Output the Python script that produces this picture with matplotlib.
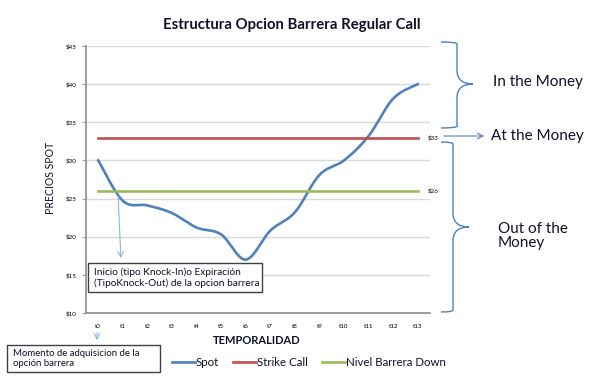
import numpy as np
import matplotlib
matplotlib.use("Agg")
import matplotlib.pyplot as plt
from matplotlib.path import Path
from matplotlib.patches import PathPatch, Rectangle

plt.rcParams["font.family"] = ["Lato", "DejaVu Sans"]

periods = ["t0", "t1", "t2", "t3", "t4", "t5", "t6", "t7", "t8", "t9", "t10", "t11", "t12", "t13"]
spot = [30, 24.7, 24.1, 23.1, 21.2, 20.3, 17.0, 20.8, 23.2, 28.1, 30.0, 33.2, 38.1, 40.0]
strike = [33] * len(periods)
barrier = [26] * len(periods)
y_ticks = [10, 15, 20, 25, 30, 35, 40, 45]

W, H = 597, 387
BLUE, RED, GREEN = "#4F81BD", "#C0504D", "#9BBB59"
TXT = "#10102a"


def smooth(x, y, n=20):
    # excel style smoothed line (catmull-rom bezier segments)
    x, y = np.asarray(x, float), np.asarray(y, float)
    px = np.concatenate([[x[0]], x, [x[-1]]])
    py = np.concatenate([[y[0]], y, [y[-1]]])
    xs, ys = [], []
    t = np.linspace(0, 1, n)[:, None]
    for i in range(1, len(px) - 2):
        p0 = np.array([px[i], py[i]])
        p3 = np.array([px[i + 1], py[i + 1]])
        p1 = p0 + (p3 - np.array([px[i - 1], py[i - 1]])) / 6
        p2 = p3 - (np.array([px[i + 2], py[i + 2]]) - p0) / 6
        b = ((1 - t) ** 3 * p0 + 3 * (1 - t) ** 2 * t * p1
             + 3 * (1 - t) * t ** 2 * p2 + t ** 3 * p3)
        xs.extend(b[:, 0])
        ys.extend(b[:, 1])
    return np.array(xs), np.array(ys)


fig = plt.figure(figsize=(W / 100, H / 100), dpi=100)
ax = fig.add_axes([86 / W, (H - 313) / H, (430 - 86) / W, (313 - 46) / H])

x = np.arange(len(periods))
sx, sy = smooth(x, spot)
ax.plot(sx, sy, color=BLUE, lw=1.9, label="Spot", zorder=3)
ax.plot(x, strike, color=RED, lw=1.9, label="Strike Call", zorder=3)
ax.plot(x, barrier, color=GREEN, lw=1.9, label="Nivel Barrera Down", zorder=3)

ax.annotate(f"${strike[-1]}", (x[-1], strike[-1]), xytext=(7, 0), textcoords="offset points",
            fontsize=4.5, va="center", ha="left")
ax.annotate(f"${barrier[-1]}", (x[-1], barrier[-1]), xytext=(7, 0), textcoords="offset points",
            fontsize=4.5, va="center", ha="left")

ax.set_xlim(-0.5, len(periods) - 0.5)
ax.set_ylim(10, 45)
ax.set_xticks(x)
ax.set_xticklabels(periods, fontsize=4.5)
ax.set_yticks(y_ticks)
ax.set_yticklabels([f"${v}" for v in y_ticks], fontsize=4.5)
ax.tick_params(axis="x", length=0, pad=8)
ax.tick_params(axis="y", length=3, color="#a0a0a0", pad=4)
ax.grid(axis="y", color="#d9d9d9", lw=1)
ax.set_axisbelow(True)
for s in ["top", "right"]:
    ax.spines[s].set_visible(False)
for s in ["left", "bottom"]:
    ax.spines[s].set_color("#8c8c8c")
    ax.spines[s].set_linewidth(1.2)

fig.text(292 / W, 1 - 25 / H, "Estructura Opcion Barrera Regular Call", fontsize=10.7,
         fontweight="bold", ha="center", va="center", color=TXT)
fig.text(50 / W, 1 - 178 / H, "PRECIOS SPOT", fontsize=7.6, rotation=90, ha="center",
         va="center", color=TXT)
fig.text(257 / W, 1 - 341 / H, "TEMPORALIDAD", fontsize=8, fontweight="bold",
         ha="center", va="center", color=TXT)

fig.legend(loc="center", bbox_to_anchor=(309 / W, 1 - 363 / H), ncol=3, frameon=False,
           fontsize=8.3, handlelength=2.0, handletextpad=0.1, columnspacing=1.2,
           labelcolor=TXT)

# overlay in pixel coordinates for the annotations
ov = fig.add_axes([0, 0, 1, 1], zorder=5)
ov.set_xlim(0, W)
ov.set_ylim(H, 0)
ov.axis("off")
ov.patch.set_alpha(0)


def brace(xe, xv, xt, ytop, ymid, ybot):
    r = 14
    verts = [(xe, ytop), (xv, ytop), (xv, ytop + 2), (xv, ytop + r),
             (xv, ymid - r), (xv, ymid), (xt, ymid), (xt, ymid),
             (xv, ymid), (xv, ymid + r), (xv, ybot - r),
             (xv, ybot - 2), (xv, ybot), (xe, ybot)]
    codes = [Path.MOVETO, Path.CURVE3, Path.CURVE3, Path.LINETO,
             Path.LINETO, Path.CURVE3, Path.CURVE3, Path.MOVETO,
             Path.CURVE3, Path.CURVE3, Path.LINETO,
             Path.LINETO, Path.CURVE3, Path.CURVE3]
    ov.add_patch(PathPatch(Path(verts, codes), fill=False, ec=BLUE, lw=1.0))


brace(441, 457, 473, 42, 84, 128)
brace(441, 453, 469, 142, 227, 312)
ov.annotate("", xy=(487, 136), xytext=(441, 136),
            arrowprops=dict(arrowstyle="->", color=BLUE, lw=0.8))
ov.text(493, 82, "In the Money", fontsize=11, va="center", ha="left", color=TXT)
ov.text(491, 136, "At the Money", fontsize=11, va="center", ha="left", color=TXT)
ov.text(498, 236, "Out of the\nMoney", fontsize=11, va="center", ha="left", color=TXT,
        linespacing=1.0)

ov.annotate("", xy=(121, 261), xytext=(118, 193),
            arrowprops=dict(arrowstyle="->", color="#8eb4e3", lw=0.8))
ov.annotate("", xy=(97, 343), xytext=(97, 330),
            arrowprops=dict(arrowstyle="->", color="#8eb4e3", lw=0.8))

ov.add_patch(Rectangle((88, 263), 174, 29, fc="white", ec="#404040", lw=1.0, zorder=4))
ov.text(94, 277.5, "Inicio (tipo Knock-In)o Expiración\n(TipoKnock-Out) de la opcion barrera",
        fontsize=7.3, va="center", ha="left", color=TXT, linespacing=1.25, zorder=5)
ov.add_patch(Rectangle((7, 345), 153, 27, fc="white", ec="#404040", lw=1.0, zorder=4))
ov.text(13, 358.5, "Momento de adquisicion de la\nopción barrera",
        fontsize=6.9, va="center", ha="left", color=TXT, linespacing=1.25, zorder=5)

fig.savefig("out.png", dpi=100)
